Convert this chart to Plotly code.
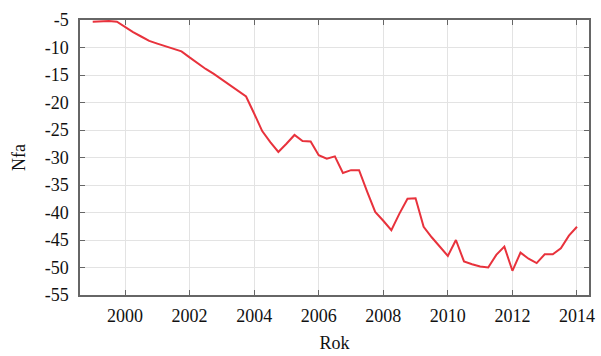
import plotly.graph_objects as go

# Quarterly observations, 1999 Q1 through 2014 Q1
years = [1999.0 + 0.25 * i for i in range(61)]
nfa = [
    -5.3, -5.2, -5.2, -5.3,
    -6.3, -7.2, -8.0, -8.8,
    -9.3, -9.8, -10.2, -10.7,
    -11.8, -12.9, -13.9, -14.8,
    -15.8, -16.9, -17.9, -18.9,
    -22.0, -25.2, -27.2, -29.0,
    -27.5, -25.9, -27.0, -27.1,
    -29.6, -30.2, -29.8, -32.8,
    -32.3, -32.3, -36.2, -39.9,
    -41.5, -43.2, -40.2, -37.5,
    -37.4, -42.6, -44.5, -46.2,
    -47.9, -45.0, -48.9, -49.4,
    -49.8, -50.0, -47.7, -46.2,
    -50.6, -47.3, -48.4, -49.2,
    -47.6, -47.6, -46.5, -44.2,
    -42.6,
]

x_ticks = [2000, 2002, 2004, 2006, 2008, 2010, 2012, 2014]
x_labels = [str(v) for v in x_ticks]
y_ticks = [-55, -50, -45, -40, -35, -30, -25, -20, -15, -10, -5]
y_labels = [str(v) for v in y_ticks]

serif = "Liberation Serif, serif"
tick_font = dict(family=serif, size=18, color="#111111")
title_font = dict(family=serif, size=18, color="#111111")

axis_common = dict(
    showline=True, linecolor="#666666", linewidth=1.5, mirror="ticks",
    ticks="inside", ticklen=5, tickcolor="#666666",
    showgrid=True, gridcolor="#e3e3e3", gridwidth=1,
    zeroline=False, automargin=False,
)

fig = go.Figure(
    go.Scatter(
        x=years, y=nfa, mode="lines",
        line=dict(color="#e8323c", width=2),
        showlegend=False,
    )
)

fig.update_xaxes(
    range=[1998.606, 2014.372], tickvals=x_ticks, ticktext=x_labels,
    tickfont=tick_font, ticklabelstandoff=4,
    title=dict(text="Rok", font=title_font, standoff=11),
    **axis_common,
)
fig.update_yaxes(
    range=[-55, -5], tickvals=y_ticks, ticktext=y_labels,
    tickfont=tick_font, ticklabelstandoff=6,
    title=dict(text="Nfa", font=title_font, standoff=14),
    **axis_common,
)

fig.update_layout(
    width=601, height=356,
    margin=dict(l=80, r=12, t=20, b=61),
    font=dict(family=serif, size=18, color="#111111"),
    paper_bgcolor="white", plot_bgcolor="white",
)

fig.write_html("out.html")
